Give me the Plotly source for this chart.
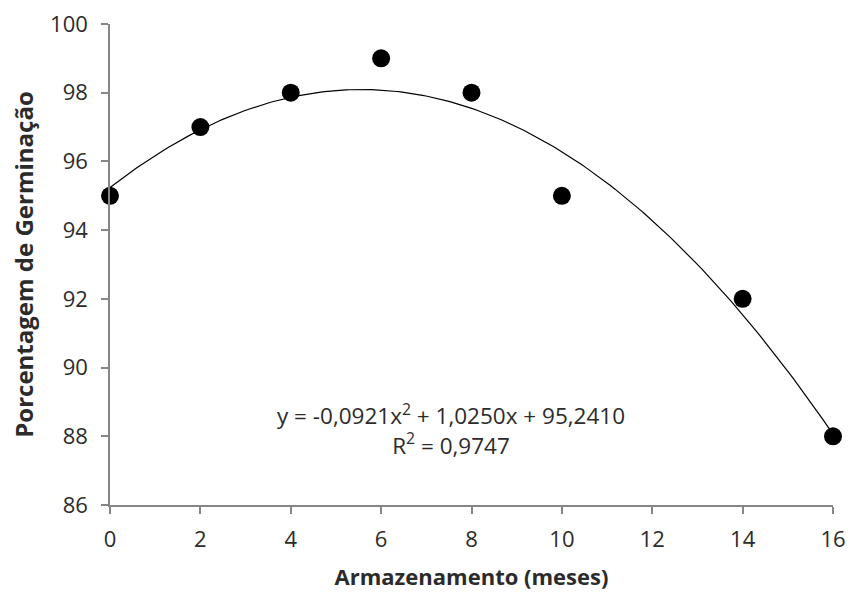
import numpy as np
import plotly.graph_objects as go

# Storage time (months) and germination percentage
meses = [0, 2, 4, 6, 8, 10, 14, 16]
germinacao = [95, 97, 98, 99, 98, 95, 92, 88]

# Quadratic regression coefficients (a, b, c) and R²
coef = [-0.0921, 1.0250, 95.2410]
r2 = 0.9747

x_fit = np.linspace(0, 16, 200)
y_fit = np.polyval(coef, x_fit)

FONT = "Open Sans, Liberation Sans, sans-serif"
TXT = "#2b2b2b"

fig = go.Figure()
fig.add_trace(go.Scatter(
    x=x_fit, y=y_fit, mode="lines",
    line=dict(color="black", width=1.2),
    hoverinfo="skip", showlegend=False,
))
fig.add_trace(go.Scatter(
    x=meses, y=germinacao, mode="markers",
    marker=dict(color="black", size=18),
    showlegend=False,
))

eq_text = (
    "y = -0,0921x<sup>2</sup> + 1,0250x + 95,2410<br>"
    "R<sup>2</sup> = 0,9747"
)
fig.add_annotation(
    x=7.55, y=88.2, xref="x", yref="y", text=eq_text, showarrow=False,
    font=dict(family=FONT, size=22.5, color=TXT),
    align="center",
)

axis_common = dict(
    showgrid=False, zeroline=False, showline=True, automargin=False,
    linecolor="#868686", linewidth=1.5,
    ticks="outside", ticklen=7, tickcolor="#868686", tickwidth=1.5,
    tickfont=dict(family=FONT, size=22, color=TXT),
)

fig.update_xaxes(
    range=[0, 16], dtick=2, tick0=0, ticklabelstandoff=7,
    title=dict(text="<b>Armazenamento (meses)</b>", standoff=17,
               font=dict(family=FONT, size=22, color=TXT)),
    **axis_common,
)
fig.update_yaxes(
    range=[86, 100], dtick=2, tick0=86, ticklabelstandoff=9,
    title=dict(text="<b>Porcentagem de Germinação</b>", standoff=10,
               font=dict(family=FONT, size=24, color=TXT)),
    **axis_common,
)

fig.update_layout(
    width=850, height=592,
    margin=dict(l=110, r=17, t=24, b=87),
    paper_bgcolor="white", plot_bgcolor="white",
)
fig.update_traces(cliponaxis=False)

fig.write_html("out.html")
